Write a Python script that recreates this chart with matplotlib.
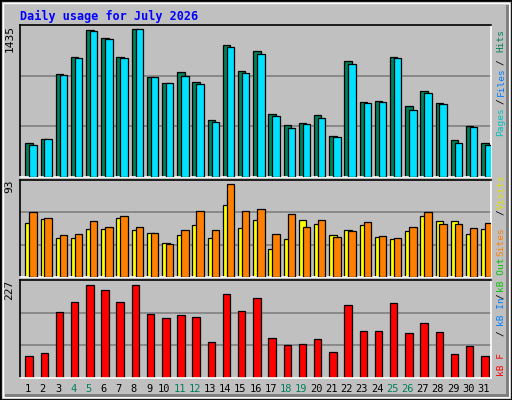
import matplotlib
matplotlib.use("Agg")
import matplotlib.pyplot as plt
from matplotlib.patches import Rectangle
import numpy as np

days = list(range(1, 32))
hits = [334,373,997,1162,1425,1347,1162,1435,967,909,1016,919,549,1279,1026,1221,607,500,519,597,393,1123,724,734,1162,685,831,714,354,490,325]
files = [315,364,987,1153,1416,1338,1153,1435,967,909,977,899,529,1260,1006,1192,588,471,510,568,383,1094,714,724,1153,646,812,705,334,480,315]
visits = [53.6,57.6,39.4,39.4,48.5,48.5,58.6,47.5,44.5,34.4,42.5,51.6,39.4,71.8,49.5,56.6,28.3,38.4,56.6,52.6,42.5,47.5,51.6,40.4,38.4,46.5,60.7,55.6,55.6,43.5,48.5]
sites = [64.7,58.6,42.5,43.5,55.6,50.5,60.7,50.5,44.5,33.4,47.5,65.7,47.5,93,65.7,67.7,43.5,62.7,50.5,56.6,40.4,46.5,54.6,41.4,39.4,50.5,64.7,52.6,52.6,49.5,53.6]
kbytes = [53,60.5,160,184.7,227,214.6,184.7,227,155,145,152.4,147.5,87.8,204.6,162.4,194.7,97.8,80.4,82.8,95.3,63,177.3,115.2,115.2,182.3,110.2,132.5,112.7,58,77.9,53]
weekend = [4,5,11,12,18,19,25,26]

W, H = 512, 400
fig = plt.figure(figsize=(W/100, H/100), dpi=100)
fig.patch.set_facecolor("#C0C0C0")
mono = "DejaVu Sans Mono"

# frame
fig.add_artist(Rectangle((0, 0), 1, 1, transform=fig.transFigure, fill=False, edgecolor="black", lw=2))
fig.add_artist(Rectangle((3/W, 3/H), 1-6/W, 1-6/H, transform=fig.transFigure, fill=False, edgecolor="white", lw=1))
fig.add_artist(Rectangle((5/W, 3/H), 1-8/W, 3/H, transform=fig.transFigure, color="#808080", lw=0))
fig.add_artist(Rectangle((1-6/W, 3/H), 3/W, 1-8/H, transform=fig.transFigure, color="#808080", lw=0))

def mkax(top, bottom, left=20, right=491):
    return fig.add_axes([left/W, 1-bottom/H, (right-left)/W, (bottom-top)/H])

x = np.array(days)
bw = 0.49
off1 = -0.15 + bw/2
off2 = 0.11 + bw/2

def style(ax, ymax, label):
    ax.set_facecolor("#C0C0C0")
    ax.set_xlim(0.5, 31.5)
    ax.set_ylim(0, ymax)
    for y in (ymax/3, 2*ymax/3):
        ax.axhline(y, color="#808080", lw=1.2, zorder=0)
    ax.set_xticks([]); ax.set_yticks([])
    ax.spines["top"].set_color("black"); ax.spines["left"].set_color("black")
    ax.spines["bottom"].set_color("white"); ax.spines["right"].set_color("white")
    for s in ax.spines.values():
        s.set_linewidth(1.2)
    ax.text(-0.012, 1.0, label, transform=ax.transAxes, rotation=90, ha="right", va="top",
            fontsize=8, family=mono)

ax1 = mkax(25, 177)
ax1.bar(x+off1, hits, bw, color="#00805C", edgecolor="black", lw=0.9, zorder=2)
ax1.bar(x+off2, files, bw, color="#00E0FF", edgecolor="black", lw=0.9, zorder=3)
style(ax1, max(hits)*152/148, "1435")

ax2 = mkax(180, 277)
ax2.bar(x+off1, visits, bw, color="#FFFF00", edgecolor="black", lw=0.9, zorder=2)
ax2.bar(x+off2, sites, bw, color="#FF8000", edgecolor="black", lw=0.9, zorder=3)
style(ax2, max(sites)*97/93, "93")

ax3 = mkax(280, 378)
ax3.bar(x+off1, kbytes, bw, color="#FF0000", edgecolor="black", lw=0.9, zorder=2)
style(ax3, max(kbytes)*98/93.5, "227")
ax3.set_xticks(x)
ax3.set_xticklabels([str(d) for d in days], family=mono, fontsize=7.5)
ax3.tick_params(length=0, pad=4)
for d, t in zip(days, ax3.get_xticklabels()):
    t.set_color("#00805C" if d in weekend else "black")

fig.text(20/W, 1-16/H, "Daily usage for July 2026", color="#0000FF", fontsize=8.5,
         fontweight="bold", family=mono, va="center", ha="left")

# right-side legends (rotated), centered at (x, y) pixel
legend = [("Pages", "#00C0C0", 122), ("/", "black", 101), ("Files", "#0080FF", 82), ("/", "black", 62), ("Hits", "#00805C", 40),
          ("Visits", "#E0E000", 192), ("/", "black", 212), ("Sites", "#FF8000", 242), ("kB Out", "#00C000", 275),
          ("/", "black", 296), ("kB In", "#0080FF", 312), ("/", "black", 333), ("kB F", "#FF0000", 364)]
for txt, col, yc in legend:
    fig.text(501/W, 1-yc/H, txt, color=col, rotation=90, ha="center", va="center", fontsize=6.8, family=mono)

fig.savefig("out.png", dpi=100, facecolor=fig.get_facecolor())
